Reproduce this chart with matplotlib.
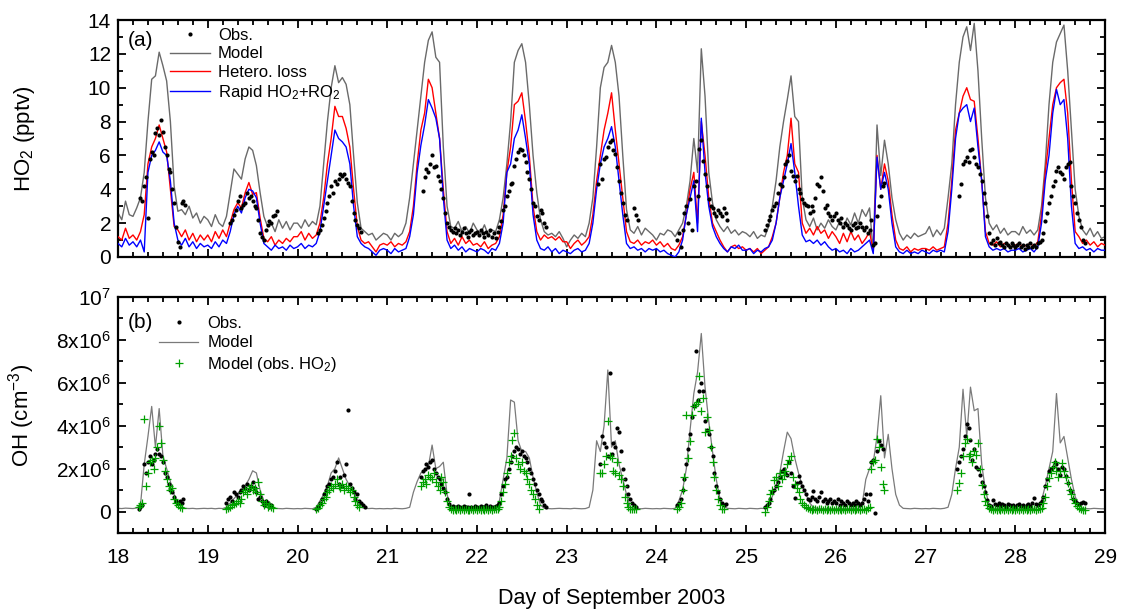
import numpy as np
import matplotlib
matplotlib.use("Agg")
import matplotlib.pyplot as plt
from matplotlib.ticker import MultipleLocator, FixedLocator

plt.rcParams['font.family'] = ['Liberation Sans', 'DejaVu Sans']
plt.rcParams['mathtext.fontset'] = 'custom'
plt.rcParams['mathtext.rm'] = 'Liberation Sans'

# ---------------- data ----------------
# HO2 model runs, pptv, hourly values 00..23 for days 18..28 (+ 29 00h)
ho2_model = [
    [2.6, 2.2, 3.3, 2.5, 2.4, 2.9, 3.5, 5.0, 8.0, 10.5, 10.7, 12.1, 11.3, 10.4, 8.0, 4.2, 2.7, 2.8, 2.5, 3.0, 2.3, 2.6, 2.0, 2.4],
    [2.2, 1.8, 2.5, 2.0, 1.8, 2.4, 3.8, 5.2, 4.9, 4.6, 5.8, 6.5, 6.3, 5.4, 3.8, 2.4, 1.8, 2.0, 1.5, 2.2, 1.7, 2.1, 1.6, 2.0],
    [2.0, 1.7, 2.2, 1.8, 2.1, 1.9, 3.0, 5.5, 8.0, 10.0, 11.3, 10.3, 10.6, 10.2, 9.0, 6.0, 3.2, 1.7, 1.5, 1.3, 1.4, 1.0, 1.2, 1.4],
    [1.3, 1.0, 1.4, 1.2, 1.4, 2.0, 3.5, 5.5, 7.5, 9.5, 11.5, 12.8, 13.3, 11.8, 11.5, 6.5, 3.0, 1.8, 1.7, 2.1, 1.5, 1.8, 1.4, 2.0],
    [1.6, 1.4, 1.9, 1.3, 1.6, 1.5, 2.2, 3.5, 5.5, 8.0, 11.5, 12.2, 12.6, 11.5, 9.0, 6.0, 3.8, 2.2, 1.5, 1.3, 1.4, 1.2, 1.5, 1.1],
    [0.6, 1.0, 1.3, 1.1, 1.4, 1.2, 2.0, 3.5, 6.5, 10.0, 11.2, 11.5, 12.5, 11.5, 9.5, 6.0, 2.8, 1.6, 1.4, 1.8, 1.3, 1.7, 1.5, 1.3],
    [1.0, 1.4, 1.3, 1.6, 1.5, 1.2, 1.6, 2.0, 3.0, 4.5, 7.0, 5.0, 12.3, 9.5, 5.0, 3.2, 2.2, 1.8, 1.5, 1.8, 1.4, 1.6, 1.3, 1.5],
    [1.4, 1.2, 1.5, 1.1, 1.3, 1.2, 1.8, 3.0, 4.5, 6.5, 8.0, 9.3, 10.7, 8.3, 8.0, 3.5, 2.2, 1.8, 2.3, 1.6, 2.0, 1.7, 2.2, 1.8],
    [1.6, 2.1, 1.7, 2.3, 1.9, 2.6, 2.0, 2.8, 2.4, 2.9, 0.3, 7.8, 4.8, 6.9, 5.5, 3.5, 2.2, 1.4, 1.0, 1.3, 1.1, 1.4, 1.2, 1.3],
    [1.4, 1.8, 1.2, 1.6, 1.3, 1.7, 3.5, 5.5, 9.0, 11.5, 13.0, 13.6, 12.2, 13.8, 11.0, 7.0, 3.5, 2.0, 1.6, 1.9, 1.4, 1.7, 1.3, 1.5],
    [1.5, 1.3, 1.8, 1.4, 1.6, 1.3, 1.6, 3.0, 5.5, 9.0, 11.5, 12.7, 13.2, 13.7, 11.0, 7.5, 4.0, 2.4, 1.6, 1.3, 1.7, 1.2, 1.5, 1.1],
    [1.2],
]
ho2_hetero = [
    [1.2, 1.0, 1.7, 1.1, 1.3, 1.0, 1.5, 2.5, 5.5, 6.5, 7.0, 7.8, 7.0, 6.2, 4.0, 1.8, 1.6, 1.2, 1.6, 1.0, 1.4, 0.9, 1.3, 1.0],
    [1.3, 0.9, 1.5, 1.1, 1.6, 1.2, 2.0, 2.8, 3.2, 2.9, 3.8, 4.4, 3.7, 3.8, 2.3, 1.1, 0.9, 1.2, 0.7, 1.0, 0.8, 1.1, 0.9, 1.2],
    [1.2, 1.5, 1.0, 1.4, 1.1, 1.3, 2.0, 3.5, 5.5, 7.0, 8.9, 8.3, 8.3, 7.6, 6.5, 4.0, 1.8, 1.0, 0.8, 0.9, 0.6, 0.3, 0.7, 0.8],
    [0.7, 0.9, 0.6, 0.8, 0.7, 0.9, 1.5, 3.0, 5.5, 7.5, 8.5, 10.5, 10.0, 8.5, 7.0, 4.0, 1.5, 0.8, 1.1, 0.7, 1.2, 0.8, 1.0, 0.7],
    [0.8, 0.6, 0.9, 0.5, 0.7, 0.8, 1.2, 2.5, 5.0, 6.5, 9.0, 9.2, 9.7, 8.0, 6.0, 3.0, 1.5, 1.0, 1.3, 1.1, 1.2, 1.0, 1.2, 0.9],
    [0.9, 0.5, 0.8, 1.0, 0.7, 0.9, 1.2, 2.5, 4.5, 6.0, 7.5, 8.5, 9.7, 7.5, 5.5, 3.5, 1.5, 0.9, 0.8, 1.0, 0.7, 0.9, 0.8, 1.0],
    [0.7, 0.9, 0.6, 0.8, 0.5, 0.4, 0.7, 1.2, 2.5, 4.0, 5.0, 2.0, 8.0, 6.0, 3.5, 2.0, 1.5, 1.0, 0.6, 0.3, 0.6, 0.7, 0.5, 0.6],
    [0.4, 0.5, 0.3, 0.5, 0.2, 0.4, 0.6, 1.2, 2.0, 3.5, 5.0, 6.0, 8.2, 5.5, 5.0, 2.0, 1.4, 1.7, 1.3, 1.8, 1.4, 1.6, 1.1, 1.5],
    [1.2, 0.8, 1.4, 0.9, 1.5, 1.0, 1.3, 0.8, 1.1, 1.5, 0.3, 6.0, 4.0, 5.5, 4.5, 2.5, 1.0, 0.5, 0.4, 0.6, 0.3, 0.5, 0.4, 0.5],
    [0.5, 0.4, 0.6, 0.4, 0.5, 0.6, 2.0, 4.5, 7.5, 8.5, 9.5, 10.0, 9.3, 9.2, 7.0, 4.5, 1.5, 0.8, 0.7, 0.9, 0.6, 0.8, 0.7, 0.6],
    [0.7, 0.8, 0.6, 0.7, 0.8, 0.6, 0.9, 2.5, 5.0, 7.0, 9.0, 10.0, 10.3, 10.5, 8.5, 4.5, 1.5, 1.2, 0.8, 1.0, 0.7, 0.9, 0.6, 0.8],
    [0.7],
]
ho2_rapid = [
    [0.8, 0.6, 1.1, 0.7, 0.9, 0.6, 1.0, 0.3, 5.0, 6.0, 6.3, 6.8, 6.2, 6.0, 4.5, 2.0, 1.0, 0.7, 1.1, 0.6, 0.9, 0.5, 0.8, 0.6],
    [0.7, 0.5, 0.9, 0.6, 1.0, 0.8, 1.5, 2.5, 3.0, 2.6, 3.5, 4.0, 3.9, 3.5, 2.0, 0.8, 0.6, 0.4, 0.7, 0.5, 0.6, 0.4, 0.7, 0.5],
    [0.6, 0.8, 0.5, 0.7, 0.6, 0.8, 1.5, 3.0, 4.5, 6.0, 7.5, 7.0, 6.8, 6.5, 5.5, 3.0, 1.2, 0.8, 0.6, 0.5, 0.3, 0.1, 0.4, 0.5],
    [0.4, 0.2, 0.5, 0.3, 0.4, 0.5, 1.2, 2.5, 5.0, 6.6, 7.8, 9.3, 8.8, 8.2, 7.0, 3.5, 1.0, 0.5, 0.7, 0.4, 0.6, 0.3, 0.5, 0.4],
    [0.3, 0.5, 0.4, 0.2, 0.5, 0.4, 0.8, 2.0, 5.0, 5.5, 7.0, 7.5, 8.4, 7.0, 5.5, 2.5, 1.0, 0.5, 0.4, 0.6, 0.3, 0.5, 0.2, 0.4],
    [0.3, 0.2, 0.4, 0.5, 0.3, 0.4, 0.8, 2.0, 4.0, 5.5, 6.5, 7.0, 7.7, 6.5, 4.5, 2.5, 0.8, 0.5, 0.6, 0.4, 0.5, 0.3, 0.5, 0.4],
    [0.5, 0.3, 0.4, 0.2, 0.1, 0.0, 0.3, 1.0, 2.5, 3.5, 4.5, 1.5, 8.2, 5.0, 3.0, 1.8, 1.2, 0.8, 0.5, 0.3, 0.6, 0.5, 0.7, 0.4],
    [0.4, 0.5, 0.2, 0.4, 0.3, 0.5, 0.6, 1.0, 2.0, 3.5, 4.5, 5.5, 6.7, 5.0, 3.0, 1.3, 0.9, 1.0, 0.8, 1.0, 0.7, 0.9, 0.6, 0.4],
    [0.5, 0.3, 0.4, 0.2, 0.5, 0.3, 0.4, 0.6, 0.8, 1.0, 0.2, 5.9, 4.0, 5.0, 4.0, 2.0, 0.6, 0.3, 0.2, 0.4, 0.2, 0.3, 0.2, 0.4],
    [0.3, 0.2, 0.4, 0.3, 0.4, 0.3, 1.5, 4.0, 7.0, 8.5, 8.8, 9.0, 8.0, 8.8, 6.5, 4.5, 1.2, 0.6, 0.4, 0.5, 0.4, 0.5, 0.3, 0.4],
    [0.4, 0.5, 0.3, 0.4, 0.5, 0.3, 0.6, 2.0, 4.5, 6.0, 8.5, 9.9, 9.0, 9.3, 7.0, 3.0, 0.8, 0.5, 0.6, 0.4, 0.5, 0.3, 0.5, 0.4],
    [0.4],
]
# OH model, 1e6 cm-3, hourly
oh_model = [
    [0.15, 0.14, 0.16, 0.15, 0.14, 0.17, 0.3, 2.2, 3.5, 4.9, 3.0, 4.8, 2.6, 2.0, 1.4, 0.8, 0.4, 0.2, 0.15, 0.14, 0.15, 0.13, 0.14, 0.15],
    [0.14, 0.15, 0.13, 0.15, 0.14, 0.2, 0.4, 0.6, 0.8, 1.0, 1.2, 1.5, 1.9, 1.8, 1.0, 0.5, 0.3, 0.2, 0.15, 0.14, 0.13, 0.15, 0.14, 0.13],
    [0.14, 0.13, 0.15, 0.14, 0.13, 0.2, 0.5, 0.8, 1.2, 1.8, 2.0, 2.5, 2.0, 1.5, 1.2, 1.0, 0.4, 0.2, 0.15, 0.14, 0.15, 0.13, 0.14, 0.13],
    [0.14, 0.13, 0.15, 0.14, 0.13, 0.15, 0.2, 0.9, 1.4, 1.8, 1.9, 2.1, 3.1, 2.0, 2.1, 2.3, 0.8, 0.2, 0.15, 0.14, 0.13, 0.14, 0.15, 0.13],
    [0.14, 0.13, 0.15, 0.14, 0.13, 0.2, 0.5, 1.5, 2.5, 5.2, 5.1, 3.3, 2.8, 2.8, 2.5, 1.6, 0.9, 0.3, 0.15, 0.14, 0.13, 0.14, 0.15, 0.14],
    [0.14, 0.13, 0.15, 0.14, 0.13, 0.14, 0.2, 1.0, 3.3, 2.8, 4.0, 6.6, 3.0, 3.3, 2.2, 1.5, 0.8, 0.2, 0.15, 0.14, 0.13, 0.15, 0.14, 0.13],
    [0.14, 0.13, 0.15, 0.14, 0.13, 0.15, 0.5, 1.0, 2.0, 3.8, 5.5, 6.5, 8.3, 5.8, 4.2, 2.8, 1.5, 0.6, 0.25, 0.15, 0.14, 0.13, 0.15, 0.14],
    [0.13, 0.15, 0.14, 0.13, 0.15, 0.14, 0.3, 0.7, 1.2, 1.8, 2.8, 3.7, 3.4, 2.5, 1.8, 1.2, 0.8, 0.4, 0.2, 0.15, 0.14, 0.13, 0.15, 0.14],
    [0.13, 0.15, 0.14, 0.13, 0.15, 0.14, 0.15, 0.3, 1.5, 2.0, 2.3, 3.5, 5.4, 2.5, 3.6, 2.0, 0.8, 0.3, 0.15, 0.14, 0.13, 0.15, 0.14, 0.13],
    [0.14, 0.13, 0.15, 0.14, 0.13, 0.15, 0.2, 0.8, 2.0, 3.0, 5.7, 3.5, 5.8, 4.7, 4.8, 2.2, 1.0, 0.3, 0.15, 0.14, 0.13, 0.15, 0.14, 0.13],
    [0.14, 0.13, 0.15, 0.14, 0.13, 0.15, 0.2, 0.5, 1.2, 2.0, 2.8, 5.5, 3.2, 3.5, 2.5, 1.5, 0.7, 0.3, 0.15, 0.14, 0.13, 0.15, 0.14, 0.13],
    [0.13],
]

# observation segments: start day, start hour, values every 30 min
ho2_obs_day = [18, 19, 20, 21, 23, 24, 25, 27]
ho2_obs_hr0 = [6.0, 6.0, 5.5, 9.5, 8.5, 5.5, 5.0, 9.0]
ho2_obs_vals = [
    [3.5, 3.3, 4.2, 4.7, 2.3, 5.8, 6.2, 6.0, 7.3, 7.6, 7.2, 8.1, 7.4, 6.5, 6.0, 5.2, 5.0, 4.0, 3.2, 1.8, 0.9, 0.6, 3.2, 3.3, 3.1],
    [2.0, 2.2, 2.5, 2.8, 3.3, 3.6, 2.9, 3.1, 3.2, 3.8, 3.5, 3.6, 3.3, 3.0, 2.9, 2.2, 1.4, 1.2, 1.0, 1.6, 1.9, 2.1, 2.0, 2.4, 2.5, 2.7],
    [1.4, 1.6, 1.9, 2.3, 2.7, 3.2, 3.6, 4.2, 3.8, 4.5, 4.3, 4.6, 4.9, 4.8, 4.9, 4.6, 4.4, 4.2, 3.3, 2.6, 2.2, 1.9, 1.7, 1.5],
    [3.9, 4.7, 5.2, 5.0, 5.5, 6.0, 5.3, 5.4, 4.8, 4.5, 4.0, 3.5, 2.6, 2.0, 1.8, 1.6, 1.5, 1.7, 1.4, 1.6,
     1.3, 1.5, 1.7, 1.4, 1.2, 1.5, 1.6, 1.3, 1.4,
     1.5, 1.3, 1.6, 1.4, 1.2, 1.5, 1.3, 1.6, 1.2, 1.4, 1.1, 1.5, 1.8, 2.1, 2.8, 3.0, 3.6, 3.9, 4.3, 4.4,
     5.4, 5.8, 6.2, 6.4, 6.3, 6.0, 5.6, 5.0, 4.6, 4.0, 3.2, 3.0, 2.4, 2.2, 2.8, 2.6, 2.0, 1.8],
    [4.3, 5.5, 4.6, 5.8, 5.9, 6.5, 6.8, 6.9, 6.3, 6.1, 5.3, 4.5, 3.8, 3.2, 2.5, 2.2, np.nan, np.nan, np.nan, 2.9, 2.5, 2.2],
    [1.0, 1.4, 0.6, 1.6, 2.6, 3.0, 2.0, 3.4, 1.6, 4.2, 4.5, 3.6, 6.4, 6.9, 5.7, 4.9, 4.2, 3.4, 3.0, 2.9,
     2.6, 2.4, 2.8, 2.6, 2.4, 2.9, 2.6, 2.2],
    [1.6, 1.9, 2.2, 2.4, 2.8, 3.0, 3.2, 3.8, 4.3, 4.2, 4.7, 5.5, 5.7, 6.0, 5.1, 4.8, 4.5, 4.8, 4.0, 3.8,
     3.4, 3.2, 3.1, 3.0, 2.6, 3.0, 2.7, 3.5, 4.3, 4.2, 4.7, 3.9, 2.9, 3.1, 2.6, 2.4, 2.2, 2.4,
     2.6, 2.2, 2.0, 2.3, 1.8, 2.0, 1.9, 1.7, 1.6, 1.9, 2.0, 1.7, 1.8, 2.0, 1.8, 1.6, 1.8, 1.4, 1.6, 2.2,
     0.7, 0.8, 2.4, 3.0, 3.6, 4.2, 4.4],
    [3.6, 4.3, 5.5, 5.7, 5.9, 5.6, 6.3, 6.4, 5.9, 5.5, 5.3, 4.9, 4.5, 3.8, 3.2, 2.4, 1.4, 0.8, 1.0, 0.7,
     1.1, 0.8, 0.9, 0.7, 0.6, 0.8, 0.7, 0.6, 0.8, 0.7,
     0.6, 0.7, 0.8, 0.6, 0.7, 0.5, 0.7, 0.6, 0.8, 0.6, 0.7, 0.6, 0.8, 0.9, 1.0, 1.4, 2.1, 2.6, 3.2, 3.6,
     4.2, 4.5, 5.1, 5.3, 5.0, 4.9, 4.6, 5.3, 5.5, 5.6, 4.2, 3.6, 3.2, 2.6, 2.2, 1.8, 1.0, 0.8],
]

oh_obs_day = [18, 19, 20, 21, 23, 24, 25, 27]
oh_obs_hr0 = [5.5, 5.0, 5.0, 9.0, 9.0, 5.5, 5.0, 8.5]
oh_obs_vals = [
    [0.1, 0.2, 0.3, 2.2, 1.8, 2.3, 2.6, 2.2, 2.4, 2.7, 2.9, 2.7, 2.6, 2.3, 1.8, 1.6, 1.3, 1.0, 0.9, 0.7,
     0.5, 0.4, 0.5, 0.4, 0.6],
    [0.4, 0.6, 0.7, 0.5, 0.9, 0.8, 0.7, 0.9, 1.0, 1.2, 1.1, 1.3, 1.0, 1.2, 1.4, 1.1, 0.9, 0.6, 0.7, 0.5,
     0.3, 0.5, 0.4, 0.2, 0.3],
    [0.1, 0.2, 0.4, 0.6, 0.8, 1.0, 1.2, 1.3, 1.5, 1.6, 1.9, 2.3, 1.3, 1.6, 1.2, 1.7, 2.2, 4.75, 1.3, 1.1,
     0.9, 0.6, 0.8, 0.5, 0.4, 0.3, 0.2],
    [1.6, 1.9, 2.0, 2.2, 2.1, 2.3, 2.4, 2.0, 1.8, 1.6, 1.5, 1.3, 1.1, 0.9, 0.6, 0.35, 0.2, 0.25, 0.15, 0.2,
     0.25, 0.2, 0.15, 0.25, 0.2, 0.2, 0.8, 0.2, 0.15, 0.25,
     0.2, 0.15, 0.25, 0.2, 0.2, 0.3, 0.15, 0.25, 0.2, 0.2, 0.25, 0.3, 0.4, 0.8, 1.2, 1.5, 1.6, 2.0, 2.3, 2.6,
     2.8, 3.0, 2.9, 2.7, 2.8, 2.6, 2.5, 2.3, 2.0, 1.8, 1.5, 1.3, 1.0, 0.8, 0.6, 0.5, 0.3, 0.2],
    [2.2, 3.5, 3.2, 3.0, 2.6, 6.45, 2.7, 3.2, 3.0, 3.9, 3.7, 2.8, 2.0, 1.5, 1.2, 0.8, 0.6, 0.4, 0.3, 0.2],
    [0.3, 0.4, 0.6, 1.0, 1.5, 2.2, 2.9, 3.6, 4.4, 4.9, 7.5, 5.2, 5.6, 6.0, 5.6, 4.2, 3.8, 3.6, 3.0, 2.6,
     1.8, 1.2, 0.9, 0.6, 0.4, 0.3, 0.35],
    [0.2, 0.3, 0.4, 0.6, 0.9, 1.0, 1.2, 1.4, 1.6, 1.9, 2.0, 1.8, 1.7, 2.3, 1.8, 1.2, 0.65, 1.35, 1.65, 1.4,
     1.2, 1.0, 0.8, 0.6, 0.55, 0.7, 0.95, 0.6, 0.5, 0.7, 0.9, 0.5, 0.6, 0.4, 0.5, 0.6, 0.4, 0.5,
     0.4, 0.6, 0.3, 0.5, 0.4, 0.3, 0.5, 0.4, 0.3, 0.4, 0.3, 0.5, 0.4, 0.3, 0.4, 0.6, 0.8, 0.5, 0.8, 2.3,
     2.4, -0.05, 2.8, 3.3, 3.1, 2.9],
    [2.0, 2.3, 2.6, 2.9, 3.5, 4.1, 3.9, 3.35, 2.4, 2.9, 2.1, 2.0, 1.7, 1.4, 1.2, 0.9, 0.55, 0.3, 0.25, 0.55,
     0.35, 0.3, 0.4, 0.25, 0.35, 0.3, 0.2, 0.35, 0.3, 0.25, 0.3,
     0.2, 0.3, 0.35, 0.25, 0.3, 0.2, 0.3, 0.35, 0.25, 0.4, 0.65, 0.35, 0.3, 0.4, 0.5, 0.7, 1.2, 1.5, 1.9, 2.0,
     2.1, 2.3, 2.2, 2.0, 1.7, 2.1, 2.0, 1.65, 1.35, 1.0, 0.9, 0.6, 0.5, 0.4, 0.35, 0.4, 0.45, 0.4],
]

oh_mho2_day = [18, 19, 20, 21, 23, 24, 25, 27]
oh_mho2_hr0 = [5.5, 5.0, 5.0, 9.0, 9.0, 5.5, 5.0, 8.5]
oh_mho2_vals = [
    [0.2, 0.3, 0.4, 4.3, 1.2, 1.8, 2.3, 2.4, 2.0, 2.5, 3.0, 4.0, 3.2, 2.4, 1.9, 1.5, 1.2, 1.0, 1.1, 0.6,
     0.4, 0.3, 0.2, 0.15],
    [0.1, 0.15, 0.2, 0.3, 0.35, 0.4, 0.5, 0.4, 0.6, 0.9, 1.0, 0.8, 1.1, 1.2, 1.0, 1.1, 0.9, 1.4, 0.8, 0.5,
     0.3, 0.4, 0.2, 0.3, 0.2, 0.15],
    [0.1, 0.15, 0.3, 0.4, 0.6, 0.7, 0.9, 1.0, 1.2, 1.1, 1.3, 1.5, 1.2, 1.1, 1.3, 1.0, 1.2, 1.1, 0.9, 1.0,
     0.7, 0.5, 0.3, 0.2],
    [1.2, 1.4, 1.5, 1.3, 1.7, 1.6, 1.5, 1.8, 1.4, 1.2, 1.0, 1.6, 1.4, 0.9, 0.5, 0.2, 0.1, 0.08, 0.1, 0.06,
     0.1, 0.08, 0.12, 0.07, 0.1, 0.09, 0.06, 0.1, 0.08, 0.11,
     0.08, 0.1, 0.07, 0.12, 0.09, 0.1, 0.06, 0.1, 0.08, 0.11, 0.1, 0.12, 0.2, 0.5, 0.9, 1.3, 1.8, 2.3, 2.6, 3.35,
     3.65, 2.5, 2.2, 2.0, 2.3, 1.9, 1.8, 1.5, 1.3, 1.0, 0.8, 0.6, 0.3, 0.1],
    [1.8, 1.8, 2.2, 2.6, 4.2, 2.6, 2.5, 1.9, 1.8, 2.3, 1.7, 1.5, 1.2, 0.7, 0.4, 0.2, 0.1, 0.1, 0.1, 0.1],
    [0.1, 0.2, 0.4, 1.0, 1.6, 4.5, 2.5, 3.3, 4.5, 4.9, 5.0, 5.1, 6.3, 4.7, 5.3, 3.7, 4.4, 3.8, 3.0, 2.3,
     1.6, 1.0, 0.6, 0.3, 0.1, 0.1],
    [0.0, 0.2, 0.5, 0.8, 1.0, 1.45, 1.6, 1.2, 1.8, 1.5, 1.7, 1.9, 2.2, 2.4, 2.6, 1.6, 1.3, 1.1, 0.9, 0.6,
     0.4, 0.3, 0.2, 0.15, 0.1, 0.08, 0.12, 0.1, 0.07, 0.1, 0.12, 0.08, 0.1, 0.06, 0.1, 0.09, 0.11, 0.08,
     0.1, 0.07, 0.12, 0.09, 0.1, 0.08, 0.11, 0.1, 0.06, 0.1, 0.09, 0.12, 0.1, 0.08, 0.1, 0.11, 0.09, 0.15, 0.2, 2.0,
     2.3, 2.4, 3.4, 3.0, 2.1, 1.3, 1.0],
    [1.0, 1.35, 1.8, 2.6, 3.2, 3.4, 2.6, 2.7, 2.3, 2.8, 2.65, 3.2, 2.0, 1.25, 0.8, 0.5, 0.3, 0.15, 0.1, 0.08,
     0.1, 0.06, 0.1, 0.09, 0.12, 0.07, 0.1, 0.08, 0.11, 0.09, 0.1,
     0.08, 0.1, 0.07, 0.12, 0.09, 0.1, 0.06, 0.1, 0.08, 0.11, 0.1, 0.09, 0.12, 0.1, 0.15, 0.4, 0.7, 1.2, 1.55, 1.8,
     2.1, 2.3, 1.9, 1.6, 1.9, 2.25, 1.9, 1.6, 1.35, 1.0, 0.8, 0.6, 0.4, 0.25, 0.15, 0.1, 0.05, 0.05],
]


def hourly(days_list):
    v = np.concatenate([np.array(d, float) for d in days_list])
    return 18 + np.arange(len(v)) / 24.0, v


def segments(day, hr0, vals):
    ts, vs = [], []
    for d, h, v in zip(day, hr0, vals):
        ts.append(d + (h + 0.5 * np.arange(len(v))) / 24.0)
        vs.append(np.array(v, float))
    return np.concatenate(ts), np.concatenate(vs)


t_h, m_ho2 = hourly(ho2_model)
_, het_ho2 = hourly(ho2_hetero)
_, rap_ho2 = hourly(ho2_rapid)
_, m_oh = hourly(oh_model)
t_ob, ob_ho2 = segments(ho2_obs_day, ho2_obs_hr0, ho2_obs_vals)
t_obo, ob_oh = segments(oh_obs_day, oh_obs_hr0, oh_obs_vals)
t_mg, mg_oh = segments(oh_mho2_day, oh_mho2_hr0, oh_mho2_vals)

# ---------------- figure ----------------
fig = plt.figure(figsize=(11.21, 6.10), dpi=100)
ax1 = fig.add_axes([0.1053, 0.5787, 0.8805, 0.3885])
ax2 = fig.add_axes([0.1053, 0.1262, 0.8805, 0.3869])

gray = '#6a6a6a'
ax1.plot(t_h, m_ho2, color=gray, lw=1.0, label='Model', zorder=2)
ax1.plot(t_h, het_ho2, color='#ff0000', lw=1.0, label='Hetero. loss', zorder=3)
ax1.plot(t_h, rap_ho2, color='#0000ff', lw=1.0, label='Rapid HO$\\mathregular{_2}$+RO$\\mathregular{_2}$', zorder=4)
ax1.plot(t_ob, ob_ho2, 'o', color='k', ms=3.0, mew=0, label='Obs.', zorder=5)

ax2.plot(t_h, m_oh * 1e6, color='#7a7a7a', lw=0.9, label='Model', zorder=2)
ax2.plot(t_obo, ob_oh * 1e6, 'o', color='k', ms=3.0, mew=0, label='Obs.', zorder=3)
ax2.plot(t_mg, mg_oh * 1e6, '+', color='#00a000', ms=6, mew=0.9, label='Model (obs. HO$\\mathregular{_2}$)', zorder=4)

for ax in (ax1, ax2):
    ax.set_xlim(18, 29)
    ax.xaxis.set_major_locator(MultipleLocator(1))
    ax.xaxis.set_minor_locator(MultipleLocator(1 / 6))
    ax.tick_params(which='both', direction='in', top=True, right=True, width=1.3)
    ax.tick_params(which='major', length=6, labelsize=15)
    ax.tick_params(which='minor', length=3.5)
    ax.tick_params(axis='y', pad=5)
    for s in ax.spines.values():
        s.set_linewidth(1.6)
    ax.yaxis.set_label_coords(-0.082, 0.5)

ax1.set_ylim(0, 14)
ax1.yaxis.set_major_locator(MultipleLocator(2))
ax1.yaxis.set_minor_locator(MultipleLocator(1))
ax1.tick_params(labelbottom=False)
ax1.set_ylabel('HO$\\mathregular{_2}$ (pptv)', fontsize=16)

ax2.set_ylim(-1e6, 1e7)
ax2.yaxis.set_major_locator(FixedLocator([0, 2e6, 4e6, 6e6, 8e6, 1e7]))
ax2.yaxis.set_minor_locator(MultipleLocator(1e6))
ax2.set_yticklabels(['0', '2x10$\\mathregular{^6}$', '4x10$\\mathregular{^6}$', '6x10$\\mathregular{^6}$',
                     '8x10$\\mathregular{^6}$', '10$\\mathregular{^7}$'])
ax2.set_ylabel('OH (cm$\\mathregular{^{-3}}$)', fontsize=16)
ax2.tick_params(axis='x', pad=11)
ax2.set_xlabel('Day of September 2003', fontsize=15.5, labelpad=15)

ax1.text(0.010, 0.915, '(a)', transform=ax1.transAxes, fontsize=15, va='center')
ax2.text(0.010, 0.894, '(b)', transform=ax2.transAxes, fontsize=15, va='center')

h1, l1 = ax1.get_legend_handles_labels()
order = [3, 0, 1, 2]
ax1.legend([h1[i] for i in order], [l1[i] for i in order], loc='upper left',
           bbox_to_anchor=(0.0527, 0.966), frameon=False, fontsize=12, numpoints=1,
           handlelength=2.4, handletextpad=0.48, labelspacing=0.2, borderaxespad=0, borderpad=0)
h2, l2 = ax2.get_legend_handles_labels()
order = [1, 0, 2]
ax2.legend([h2[i] for i in order], [l2[i] for i in order], loc='upper left',
           bbox_to_anchor=(0.0416, 0.919), frameon=False, fontsize=12, numpoints=1,
           handlelength=2.35, handletextpad=0.55, labelspacing=0.26, borderaxespad=0, borderpad=0)

fig.savefig('out.png', dpi=100)
